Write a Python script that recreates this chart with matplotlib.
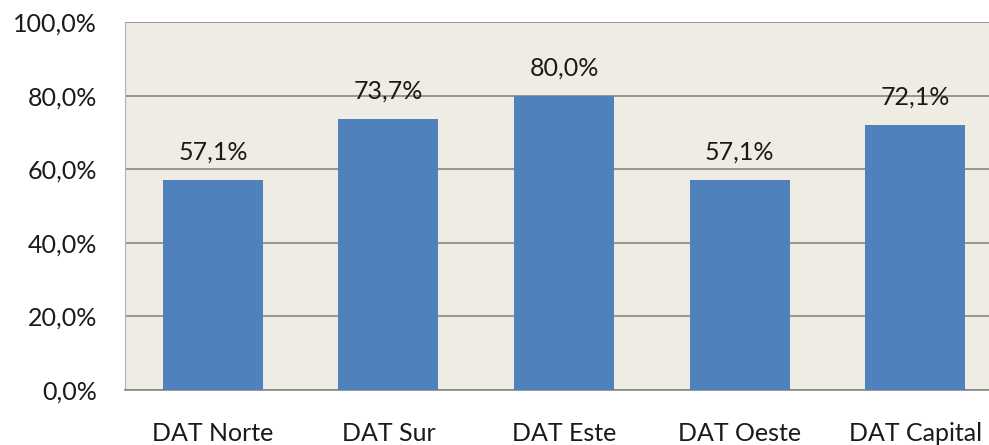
import matplotlib
matplotlib.use('Agg')
import matplotlib.pyplot as plt

# porcentajes por dirección de área
regiones = ['DAT Norte', 'DAT Sur', 'DAT Este', 'DAT Oeste', 'DAT Capital']
porcentajes = [57.1, 73.7, 80.0, 57.1, 72.1]
marcas_y = [0, 20, 40, 60, 80, 100]

plt.rcParams['font.family'] = ['Lato', 'DejaVu Sans']

fig = plt.figure(figsize=(9.89, 4.45), dpi=100)
ax = fig.add_axes([0.1264, 0.1236, 0.8878, 0.827])
ax.set_facecolor('#EEECE3')

x = list(range(len(regiones)))
ax.bar(x, porcentajes, width=0.57, color='#4F81BD', zorder=3)

# etiquetas de valor sobre cada barra
for xi, v in zip(x, porcentajes):
    ax.text(xi, v + 5.4, f'{v:.1f}%'.replace('.', ','), ha='center', va='baseline',
            fontsize=18, color='#1a1a1a', zorder=4)

ax.set_xlim(-0.5, 4.5)
ax.set_ylim(0, 100)
ax.set_yticks(marcas_y)
ax.set_yticklabels([f'{m:.1f}%'.replace('.', ',') for m in marcas_y])
ax.set_xticks(x)
ax.set_xticklabels(regiones)
ax.tick_params(axis='both', length=0, labelsize=18, colors='#1a1a1a')
ax.tick_params(axis='y', pad=20)
ax.tick_params(axis='x', pad=23)

ax.grid(axis='y', color='#868686', linewidth=1.2, zorder=1)
ax.spines['top'].set_visible(False)
ax.spines['right'].set_visible(False)
ax.spines['left'].set_color('#B0B0B0')
ax.spines['bottom'].set_color('#868686')
ax.spines['bottom'].set_linewidth(1.2)

fig.savefig('out.png', dpi=100)
